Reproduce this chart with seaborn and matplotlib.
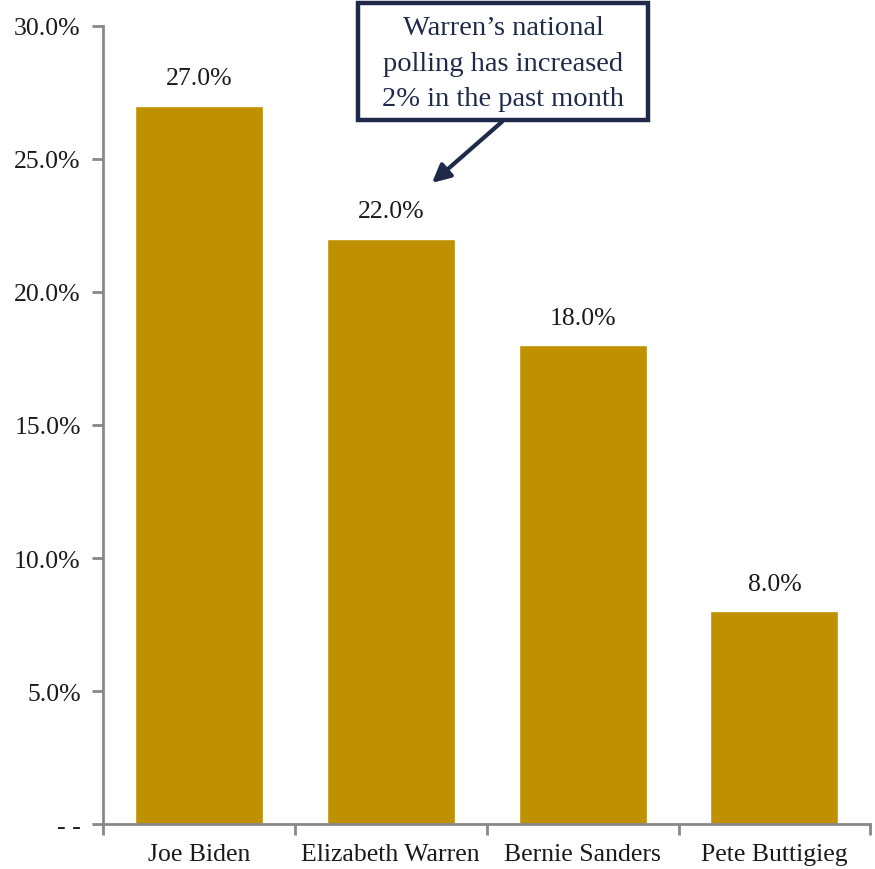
import matplotlib
matplotlib.use("Agg")
import matplotlib.pyplot as plt
from matplotlib.patches import Rectangle
import seaborn as sns
import pandas as pd

candidates = ["Joe Biden", "Elizabeth Warren", "Bernie Sanders", "Pete Buttigieg"]
support = [27.0, 22.0, 18.0, 8.0]
y_ticks = [0, 5, 10, 15, 20, 25, 30]
y_tick_labels = ["- -", "5.0%", "10.0%", "15.0%", "20.0%", "25.0%", "30.0%"]
note = "Warren\u2019s national\npolling has increased\n2% in the past month"

sns.set_theme(style="white")
plt.rcParams["font.family"] = ["Liberation Serif", "DejaVu Serif"]

df = pd.DataFrame({"candidate": candidates, "support": support})

fig = plt.figure(figsize=(8.75, 8.7), dpi=100)
ax = fig.add_axes([0.1177, 0.0517, 0.877, 0.9173])

sns.barplot(data=df, x="candidate", y="support", color="#BF9000", saturation=1,
            width=0.667, ax=ax)

ax.set_ylim(0, 30)
ax.set_xlim(-0.5, 3.5)
ax.set_yticks(y_ticks)
ax.set_yticklabels(y_tick_labels)
ax.set_xlabel("")
ax.set_ylabel("")

for s in ["top", "right"]:
    ax.spines[s].set_visible(False)
for s in ["left", "bottom"]:
    ax.spines[s].set_color("#888888")
    ax.spines[s].set_linewidth(2)

fs = 18.5
ax.tick_params(axis="y", which="major", direction="out", length=8, width=2,
               color="#888888", left=True, labelsize=fs, labelcolor="#1a1a1a", pad=8)
ax.set_xticks(range(len(candidates)))
ax.set_xticklabels(candidates)
ax.tick_params(axis="x", which="major", length=0, labelsize=fs, labelcolor="#1a1a1a", pad=14)
ax.set_xticks([-0.5, 0.5, 1.5, 2.5, 3.5], minor=True)
ax.tick_params(axis="x", which="minor", direction="out", length=8, width=2,
               color="#888888", bottom=True)

for i, v in enumerate(support):
    ax.annotate(f"{v:.1f}%", xy=(i, v), xytext=(0, 12), textcoords="offset points",
                ha="center", va="bottom", fontsize=fs, color="#1a1a1a")

navy = "#1F2A4A"
# callout box
box = Rectangle((0.83, 26.45), 1.51, 4.42, transform=ax.transData,
                fc="white", ec=navy, lw=3.2, clip_on=False, zorder=5)
ax.add_patch(box)
ax.text(1.586, 28.6, note, ha="center", va="center", fontsize=20.5,
        color=navy, linespacing=1.56, zorder=6, clip_on=False)
ax.annotate("", xy=(1.215, 24.1), xycoords="data",
            xytext=(1.58, 26.4), textcoords="data",
            arrowprops=dict(arrowstyle="-|>,head_length=0.9,head_width=0.45",
                            color=navy, lw=3, shrinkA=0, shrinkB=0),
            annotation_clip=False, zorder=6)

fig.savefig("out.png", dpi=100)
